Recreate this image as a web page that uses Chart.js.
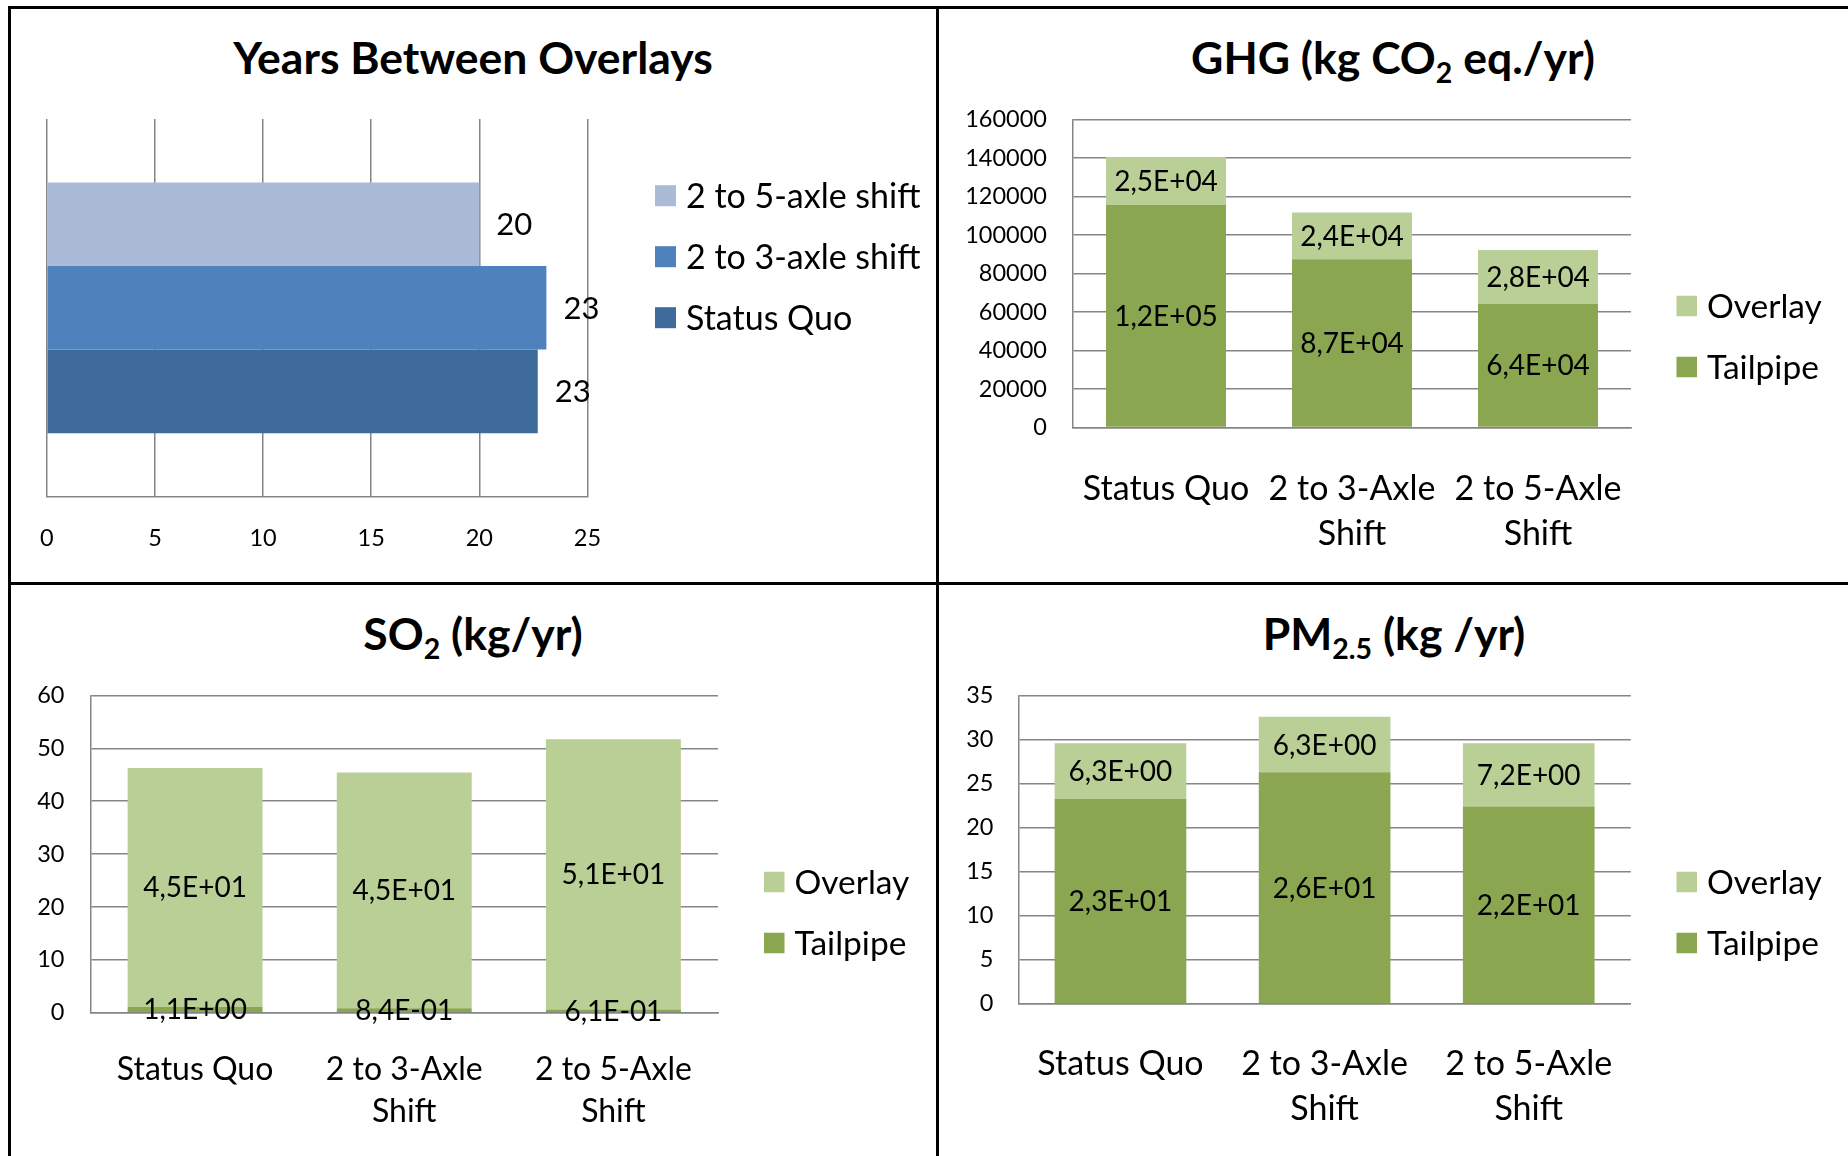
<!DOCTYPE html>
<html>
<head>
<meta charset="utf-8">
<title>Overlay scenarios</title>
<script src="https://cdn.jsdelivr.net/npm/chart.js@4.4.1/dist/chart.umd.min.js"></script>
<style>
  html, body { margin: 0; padding: 0; background: #fff; width: 1848px; height: 1156px; overflow: hidden; }
  .rule { position: absolute; background: #000; }
  .title { position: absolute; font-family: Lato, "Open Sans", sans-serif; font-weight: 700; font-size: 44.5px;
           line-height: 1; white-space: nowrap; color: #000; transform: translateX(-50%); }
  .title sub { font-size: 0.64em; vertical-align: baseline; position: relative; top: 0.32em; }
  canvas { position: absolute; }
</style>
</head>
<body>
<div class="rule" style="left:8px;top:6px;width:3px;height:1150px"></div>
<div class="rule" style="left:8px;top:6px;width:1840px;height:3px"></div>
<div class="rule" style="left:936px;top:6px;width:3px;height:1150px"></div>
<div class="rule" style="left:8px;top:582px;width:1840px;height:3px"></div>

<div class="title" style="left:473px;top:35px">Years Between Overlays</div>
<div class="title" style="left:1393px;top:35px">GHG (kg CO<sub>2</sub> eq./yr)</div>
<div class="title" style="left:473px;top:611px">SO<sub>2</sub> (kg/yr)</div>
<div class="title" style="left:1394px;top:611px">PM<sub>2.5</sub> (kg /yr)</div>

<canvas id="years" width="923" height="571" style="left:12px;top:10px"></canvas>
<canvas id="ghg" width="908" height="571" style="left:940px;top:10px"></canvas>
<canvas id="so2" width="923" height="569" style="left:12px;top:587px"></canvas>
<canvas id="pm" width="908" height="569" style="left:940px;top:587px"></canvas>

<script>
// ---- data ----
const yearsSeries = ['2 to 5-axle shift', '2 to 3-axle shift', 'Status Quo'];
const yearsValues = [20.0, 23.1, 22.7];
const yearsTicks = [0, 5, 10, 15, 20, 25];

const scenarioLabels = [['Status Quo'], ['2 to 3-Axle', 'Shift'], ['2 to 5-Axle', 'Shift']];
const seriesNames = ['Tailpipe', 'Overlay'];

const ghgTailpipe = [115800, 87400, 64300];
const ghgOverlay = [24800, 24300, 28000];
const ghgTicks = [0, 20000, 40000, 60000, 80000, 100000, 120000, 140000, 160000];

const so2Tailpipe = [1.1, 0.84, 0.61];
const so2Overlay = [45.2, 44.6, 51.1];
const so2Ticks = [0, 10, 20, 30, 40, 50, 60];

const pmTailpipe = [23.3, 26.3, 22.4];
const pmOverlay = [6.3, 6.3, 7.2];
const pmTicks = [0, 5, 10, 15, 20, 25, 30, 35];

// ---- styling ----
const FONT = 'Lato, "Open Sans", sans-serif';
const GRID = '#858585';
const BLUES = ['#AABAD7', '#4F81BD', '#3F6A9C'];
const TAILPIPE_GREEN = '#8AA651';
const OVERLAY_GREEN = '#B9CF96';

// Scientific notation with a decimal comma, e.g. 1,2E+05
function sci(v) {
  const [m, e] = v.toExponential(1).split('e');
  const n = parseInt(e, 10);
  const exp = (n < 0 ? '-' : '+') + String(Math.abs(n)).padStart(2, '0');
  return m.replace('.', ',') + 'E' + exp;
}

// Writes each bar's value on the bar (centre of the segment) or just past its end
const valueLabels = {
  id: 'valueLabels',
  afterDatasetsDraw(chart, args, opts) {
    const ctx = chart.ctx;
    ctx.save();
    ctx.font = opts.font;
    ctx.fillStyle = '#000';
    ctx.textBaseline = 'middle';
    chart.data.datasets.forEach((ds, di) => {
      chart.getDatasetMeta(di).data.forEach((bar, i) => {
        const text = opts.format(ds.data[i]);
        if (opts.mode === 'end') {
          ctx.textAlign = 'left';
          ctx.fillText(text, bar.x + opts.offset, bar.y + 1);
        } else {
          ctx.textAlign = 'center';
          ctx.fillText(text, bar.x, (bar.y + bar.base) / 2 + 1);
        }
      });
    });
    ctx.restore();
  }
};

// Legend column to the right of the plot
const sideLegend = {
  id: 'sideLegend',
  afterDraw(chart, args, opts) {
    const ctx = chart.ctx;
    ctx.save();
    ctx.font = opts.font;
    ctx.textAlign = 'left';
    ctx.textBaseline = 'middle';
    opts.order.forEach((di, k) => {
      const ds = chart.data.datasets[di];
      const cy = opts.top + k * opts.step;
      ctx.fillStyle = ds.backgroundColor;
      ctx.fillRect(opts.left, cy - opts.box / 2, opts.box, opts.box);
      ctx.fillStyle = '#000';
      ctx.fillText(ds.label, opts.left + opts.box + opts.gap, cy + 1);
    });
    ctx.restore();
  }
};

// ---- Years between overlays (horizontal bars) ----
new Chart(document.getElementById('years'), {
  type: 'bar',
  data: {
    labels: [''],
    datasets: yearsSeries.map((name, i) => ({
      label: name,
      data: [yearsValues[i]],
      backgroundColor: BLUES[i],
      categoryPercentage: 0.664,
      barPercentage: 1
    }))
  },
  options: {
    indexAxis: 'y',
    responsive: false,
    animation: false,
    events: [],
    layout: { padding: { left: 33.6, top: 109, right: 347.5, bottom: 14.4 } },
    plugins: {
      legend: { display: false },
      title: { display: false },
      tooltip: { enabled: false },
      valueLabels: { mode: 'end', offset: 17, font: '31px ' + FONT, format: v => String(Math.round(v)) },
      sideLegend: { order: [0, 1, 2], left: 643, top: 185.7, step: 61, box: 21, gap: 10, font: '34px ' + FONT }
    },
    scales: {
      x: {
        type: 'linear',
        min: yearsTicks[0],
        max: yearsTicks[yearsTicks.length - 1],
        ticks: { stepSize: yearsTicks[1] - yearsTicks[0], color: '#000', font: { family: FONT, size: 23.5 }, padding: 28 },
        grid: { color: GRID, lineWidth: 1.5, drawTicks: false },
        border: { color: GRID, width: 1.5 },
        afterFit(s) { s.height = 70; }
      },
      y: { display: false }
    }
  },
  plugins: [valueLabels, sideLegend]
});

// ---- stacked emission charts ----
function emissionChart(id, tailpipe, overlay, ticks, g) {
  return new Chart(document.getElementById(id), {
    type: 'bar',
    data: {
      labels: scenarioLabels,
      datasets: [
        { label: seriesNames[0], data: tailpipe, backgroundColor: TAILPIPE_GREEN, categoryPercentage: 0.645, barPercentage: 1 },
        { label: seriesNames[1], data: overlay, backgroundColor: OVERLAY_GREEN, categoryPercentage: 0.645, barPercentage: 1 }
      ]
    },
    options: {
      responsive: false,
      animation: false,
      events: [],
      layout: { padding: { left: 0, top: g.top, right: g.right, bottom: g.bottom } },
      plugins: {
        legend: { display: false },
        title: { display: false },
        tooltip: { enabled: false },
        valueLabels: { mode: 'center', font: '28px ' + FONT, format: sci },
        sideLegend: { order: [1, 0], left: g.legendLeft, top: g.legendTop, step: 61, box: 20.5, gap: 10, font: '33.5px ' + FONT }
      },
      scales: {
        x: {
          stacked: true,
          ticks: { color: '#000', font: { family: FONT, size: g.catSize, lineHeight: g.lh + 'px' }, padding: g.xPad, maxRotation: 0, autoSkip: false },
          grid: { display: false, drawTicks: false },
          border: { color: GRID, width: 1.5 },
          afterFit(s) { s.height = 120; }
        },
        y: {
          stacked: true,
          min: ticks[0],
          max: ticks[ticks.length - 1],
          ticks: { stepSize: ticks[1] - ticks[0], callback: v => String(v), color: '#000', font: { family: FONT, size: 23.5 }, padding: g.yPad },
          grid: { color: GRID, lineWidth: 1.5, drawTicks: false },
          border: { color: GRID, width: 1.5 },
          afterFit(s) { s.width = g.yw; }
        }
      }
    },
    plugins: [valueLabels, sideLegend]
  });
}

emissionChart('ghg', ghgTailpipe, ghgOverlay, ghgTicks,
  { top: 109.6, right: 217, bottom: 33.4, yw: 133, yPad: 26, xPad: 38.5, lh: 45, catSize: 34, legendLeft: 736.5, legendTop: 296 });
emissionChart('so2', so2Tailpipe, so2Overlay, so2Ticks,
  { top: 108.5, right: 217, bottom: 23.3, yw: 78.5, yPad: 26, xPad: 36, lh: 42, catSize: 32, legendLeft: 752, legendTop: 295 });
emissionChart('pm', pmTailpipe, pmOverlay, pmTicks,
  { top: 108.6, right: 217.2, bottom: 32.1, yw: 78.4, yPad: 25, xPad: 38, lh: 45, catSize: 34, legendLeft: 736.5, legendTop: 295 });
</script>
</body>
</html>
